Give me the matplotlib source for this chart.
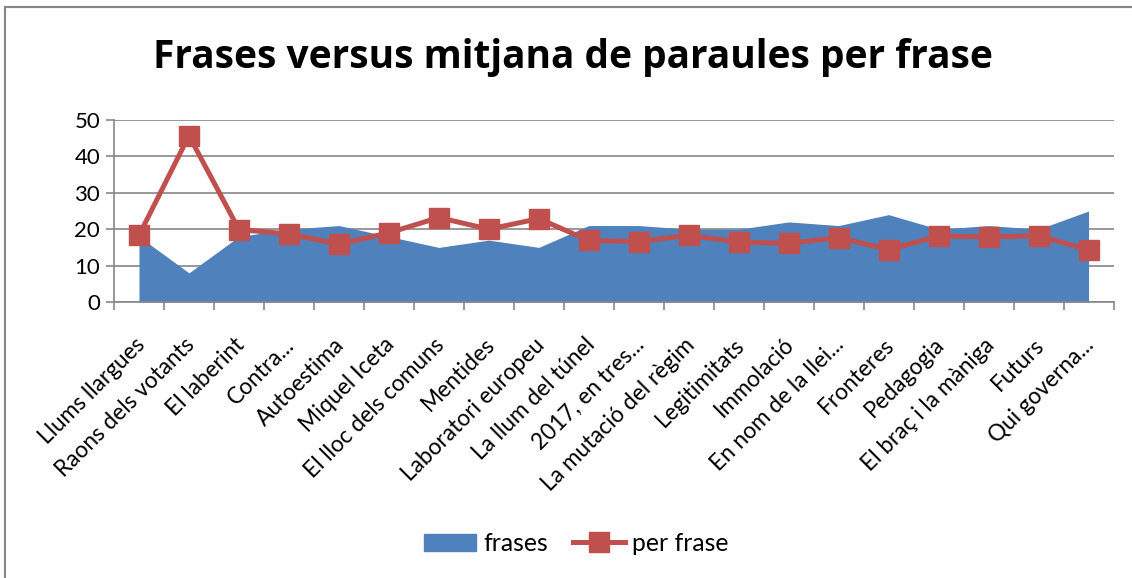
import matplotlib.pyplot as plt
from matplotlib.lines import Line2D
from matplotlib.transforms import ScaledTranslation
import numpy as np

categories = ["Llums llargues", "Raons dels votants", "El laberint", "Contra...",
              "Autoestima", "Miquel Iceta", "El lloc dels comuns", "Mentides",
              "Laboratori europeu", "La llum del túnel", "2017, en tres...",
              "La mutació del règim", "Legitimitats", "Immolació", "En nom de la llei...",
              "Fronteres", "Pedagogia", "El braç i la màniga", "Futurs", "Qui governa..."]
frases = [18, 8, 18, 20, 21, 18, 15, 17, 15, 21, 21, 20, 20, 22, 21, 24, 20, 21, 20, 25]
per_frase = [18.3, 45.7, 19.9, 18.7, 15.9, 19.0, 23.2, 20.0, 22.9, 16.9,
             16.6, 18.3, 16.5, 16.1, 17.7, 14.4, 18.1, 17.9, 18.2, 14.3]

plt.rcParams['font.family'] = ['Lato', 'DejaVu Sans']

blue = '#4F81BD'
red = '#C0504D'
grey = '#868686'

fig = plt.figure(figsize=(11.32, 5.78), dpi=100, facecolor='white')
ax = fig.add_axes([0.1007, 0.4775, 0.883, 0.3149])

x = np.arange(len(categories))
ax.fill_between(x, 0, frases, color=blue, linewidth=0, zorder=2)
ax.plot(x, per_frase, color=red, linewidth=3.6, marker='s', markersize=14,
        markeredgecolor=red, zorder=3)

ax.set_xlim(-0.5, len(categories) - 0.5)
ax.set_ylim(0, 50)
ax.set_yticks([0, 10, 20, 30, 40, 50])
ax.yaxis.grid(True, color=grey, linewidth=1.2, zorder=1)
ax.set_axisbelow(True)

ax.set_xticks(x)
ax.set_xticklabels(categories, rotation=45, ha='right', va='top',
                   rotation_mode='anchor', fontsize=16.3)
ax.set_xticks(np.arange(len(categories) + 1) - 0.5, minor=True)
ax.tick_params(axis='x', which='major', length=0, pad=13)
ax.tick_params(axis='x', which='minor', length=6, color=grey, width=1.2)
ax.tick_params(axis='y', length=6, color=grey, width=1.2, labelsize=16, pad=4)

shift = ScaledTranslation(-0.05, -0.14, fig.dpi_scale_trans)
for lab in ax.get_xticklabels():
    lab.set_transform(lab.get_transform() + shift)

for s in ['top', 'right']:
    ax.spines[s].set_visible(False)
for s in ['left', 'bottom']:
    ax.spines[s].set_color(grey)
    ax.spines[s].set_linewidth(1.2)

fig.text(0.506, 0.9, "Frases versus mitjana de paraules per frase",
         ha='center', va='center', fontsize=28, fontweight='bold',
         family=['Open Sans', 'DejaVu Sans'])

handles = [plt.Rectangle((0, 0), 1, 1, color=blue),
           Line2D([], [], color=red, linewidth=3.6, marker='s', markersize=14)]
fig.legend(handles, ['frases', 'per frase'], loc='center', bbox_to_anchor=(0.509, 0.06),
           ncol=2, frameon=False, fontsize=17.8, handlelength=2.1, columnspacing=1.0,
           handletextpad=0.3)

# chart border (only top and left visible in crop)
fig.add_artist(Line2D([0.0045, 0.0045], [0, 0.988], color=grey, linewidth=1.5,
                      transform=fig.transFigure))
fig.add_artist(Line2D([0.0045, 1.0], [0.988, 0.988], color=grey, linewidth=1.5,
                      transform=fig.transFigure))

fig.savefig('out.png', dpi=100, facecolor='white')
